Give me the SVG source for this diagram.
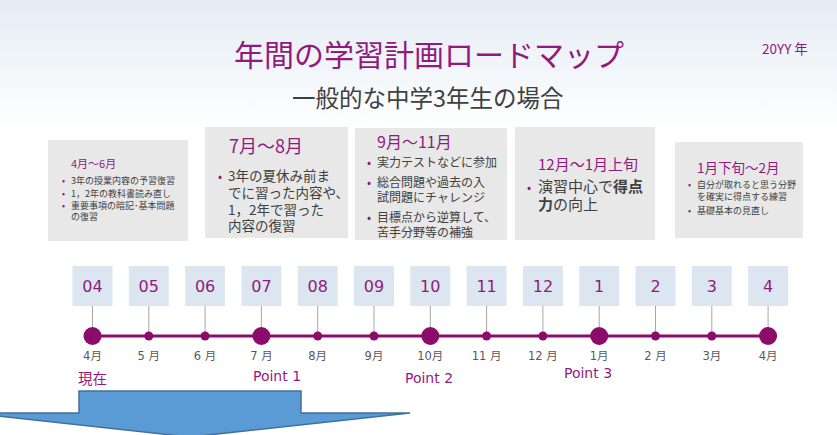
<svg xmlns="http://www.w3.org/2000/svg" width="837" height="435" viewBox="0 0 837 435">
<defs>
<linearGradient id="bg" x1="0" y1="0" x2="0" y2="1">
<stop offset="0" stop-color="#E4ECF4"/>
<stop offset="1" stop-color="#FFFFFF"/>
</linearGradient>
<style>
.jp{font-family:"Noto Sans CJK JP","Noto Sans",sans-serif}
.pur{fill:#921A7E}
.body{fill:#404040}
.card{fill:#E8E8E8}
.mbox{fill:#DCE6F0}
.mnum{font-family:"DejaVu Sans",sans-serif;font-size:16px;fill:#921A7E;text-anchor:middle}
.mlab{font-family:"DejaVu Sans","Noto Sans CJK JP",sans-serif;font-size:11.5px;fill:#595959;text-anchor:middle}
.pt{font-family:"DejaVu Sans","Noto Sans CJK JP",sans-serif;font-size:14px;fill:#921A7E}
.tick{stroke:#A6A6A6;stroke-width:1}
.dot{fill:#8C0C6C}
.bul{fill:#921A7E}
</style>
</defs>
<rect x="0" y="0" width="837" height="435" fill="#FFFFFF"/>
<rect x="0" y="0" width="837" height="130" fill="url(#bg)"/>

<g id="title">
<text class="jp pur" x="234" y="66" font-size="30">年間の学習計画ロードマップ</text>
<text class="jp body" x="292" y="107" font-size="23.5" fill="#404040">一般的な中学3年生の場合</text>
<text class="jp pur" x="762" y="54" font-size="13.5">20YY 年</text>
</g>

<g id="card1">
<rect class="card" x="48" y="140" width="140" height="101"/>
<text class="jp pur" x="71" y="168" font-size="11">4月～6月</text>
<g class="jp body" font-size="9">
<text x="62" y="184" class="bul">•</text><text x="71" y="184">3年の授業内容の予習復習</text>
<text x="62" y="197" class="bul">•</text><text x="71" y="197">1，2年の教科書読み直し</text>
<text x="62" y="209" class="bul">•</text><text x="71" y="209">重要事項の暗記･基本問題</text>
<text x="71" y="220">の復習</text>
</g>
</g>

<g id="card2">
<rect class="card" x="205" y="127" width="143" height="111"/>
<text class="jp pur" x="229" y="153" font-size="18">7月～8月</text>
<g class="jp body" font-size="13.5">
<text x="218" y="181" class="bul" font-size="12">•</text><text x="228" y="181">3年の夏休み前ま</text>
<text x="228" y="198">でに習った内容や、</text>
<text x="228" y="214.5">1，2年で習った</text>
<text x="228" y="231">内容の復習</text>
</g>
</g>

<g id="card3">
<rect class="card" x="355" y="128" width="152" height="112"/>
<text class="jp pur" x="377" y="148" font-size="16">9月～11月</text>
<g class="jp body" font-size="12">
<text x="367" y="167" class="bul">•</text><text x="377" y="167">実力テストなどに参加</text>
<text x="367" y="187" class="bul">•</text><text x="377" y="187">総合問題や過去の入</text>
<text x="377" y="202">試問題にチャレンジ</text>
<text x="367" y="222" class="bul">•</text><text x="377" y="222">目標点から逆算して、</text>
<text x="377" y="237">苦手分野等の補強</text>
</g>
</g>

<g id="card4">
<rect class="card" x="515" y="127" width="140" height="113"/>
<text class="jp pur" x="538" y="170" font-size="15">12月～1月上旬</text>
<g class="jp body" font-size="15">
<text x="527" y="192" class="bul" font-size="12">•</text><text x="538" y="192">演習中心で<tspan font-weight="bold">得点</tspan></text>
<text x="538" y="210"><tspan font-weight="bold">力</tspan>の向上</text>
</g>
</g>

<g id="card5">
<rect class="card" x="675" y="142" width="128" height="96"/>
<text class="jp pur" x="697" y="173" font-size="13.5">1月下旬～2月</text>
<g class="jp body" font-size="9">
<text x="688" y="188" class="bul">•</text><text x="697" y="188">自分が取れると思う分野</text>
<text x="697" y="200">を確実に得点する練習</text>
<text x="688" y="214" class="bul">•</text><text x="697" y="214">基礎基本の見直し</text>
</g>
</g>

<g id="connectors">
<line x1="92.5" y1="336" x2="768" y2="336" stroke="#8C0C6C" stroke-width="3"/>
<line class="tick" x1="92.5" y1="306" x2="92.5" y2="336"/>
<line class="tick" x1="148.8" y1="306" x2="148.8" y2="336"/>
<line class="tick" x1="205.1" y1="306" x2="205.1" y2="336"/>
<line class="tick" x1="261.4" y1="306" x2="261.4" y2="336"/>
<line class="tick" x1="317.7" y1="306" x2="317.7" y2="336"/>
<line class="tick" x1="374" y1="306" x2="374" y2="336"/>
<line class="tick" x1="430.3" y1="306" x2="430.3" y2="336"/>
<line class="tick" x1="486.6" y1="306" x2="486.6" y2="336"/>
<line class="tick" x1="542.9" y1="306" x2="542.9" y2="336"/>
<line class="tick" x1="599.2" y1="306" x2="599.2" y2="336"/>
<line class="tick" x1="655.5" y1="306" x2="655.5" y2="336"/>
<line class="tick" x1="711.8" y1="306" x2="711.8" y2="336"/>
<line class="tick" x1="768.1" y1="306" x2="768.1" y2="336"/>
</g>

<g id="m04"><rect class="mbox" x="72.5" y="266" width="40" height="40"/><text class="mnum" x="92.5" y="292">04</text><circle class="dot" cx="92.5" cy="336" r="9"/><text class="mlab" x="92.5" y="360">4月</text></g>
<g id="m05"><rect class="mbox" x="128.8" y="266" width="40" height="40"/><text class="mnum" x="148.8" y="292">05</text><circle class="dot" cx="148.8" cy="336" r="4.5"/><text class="mlab" x="148.8" y="360">5 月</text></g>
<g id="m06"><rect class="mbox" x="185.1" y="266" width="40" height="40"/><text class="mnum" x="205.1" y="292">06</text><circle class="dot" cx="205.1" cy="336" r="4.5"/><text class="mlab" x="205.1" y="360">6 月</text></g>
<g id="m07"><rect class="mbox" x="241.4" y="266" width="40" height="40"/><text class="mnum" x="261.4" y="292">07</text><circle class="dot" cx="261.4" cy="336" r="9"/><text class="mlab" x="261.4" y="360">7 月</text></g>
<g id="m08"><rect class="mbox" x="297.7" y="266" width="40" height="40"/><text class="mnum" x="317.7" y="292">08</text><circle class="dot" cx="317.7" cy="336" r="4.5"/><text class="mlab" x="317.7" y="360">8月</text></g>
<g id="m09"><rect class="mbox" x="354" y="266" width="40" height="40"/><text class="mnum" x="374" y="292">09</text><circle class="dot" cx="374" cy="336" r="4.5"/><text class="mlab" x="374" y="360">9月</text></g>
<g id="m10"><rect class="mbox" x="410.3" y="266" width="40" height="40"/><text class="mnum" x="430.3" y="292">10</text><circle class="dot" cx="430.3" cy="336" r="9"/><text class="mlab" x="430.3" y="360">10月</text></g>
<g id="m11"><rect class="mbox" x="466.6" y="266" width="40" height="40"/><text class="mnum" x="486.6" y="292">11</text><circle class="dot" cx="486.6" cy="336" r="4.5"/><text class="mlab" x="486.6" y="360">11 月</text></g>
<g id="m12"><rect class="mbox" x="522.9" y="266" width="40" height="40"/><text class="mnum" x="542.9" y="292">12</text><circle class="dot" cx="542.9" cy="336" r="4.5"/><text class="mlab" x="542.9" y="360">12 月</text></g>
<g id="m1"><rect class="mbox" x="579.2" y="266" width="40" height="40"/><text class="mnum" x="599.2" y="292">1</text><circle class="dot" cx="599.2" cy="336" r="9"/><text class="mlab" x="599.2" y="360">1月</text></g>
<g id="m2"><rect class="mbox" x="635.5" y="266" width="40" height="40"/><text class="mnum" x="655.5" y="292">2</text><circle class="dot" cx="655.5" cy="336" r="4.5"/><text class="mlab" x="655.5" y="360">2 月</text></g>
<g id="m3"><rect class="mbox" x="691.8" y="266" width="40" height="40"/><text class="mnum" x="711.8" y="292">3</text><circle class="dot" cx="711.8" cy="336" r="4.5"/><text class="mlab" x="711.8" y="360">3月</text></g>
<g id="m4"><rect class="mbox" x="748.1" y="266" width="40" height="40"/><text class="mnum" x="768.1" y="292">4</text><circle class="dot" cx="768.1" cy="336" r="9"/><text class="mlab" x="768.1" y="360">4月</text></g>

<g id="points">
<text class="jp pur" x="78" y="384" font-size="14.5">現在</text>
<text class="pt" x="277" y="381" text-anchor="middle">Point 1</text>
<text class="pt" x="429" y="383" text-anchor="middle">Point 2</text>
<text class="pt" x="588" y="378" text-anchor="middle">Point 3</text>
</g>

<g id="arrow">
<path d="M79,391 H301 V413 H410 L190,437 L-30,413 H79 Z" fill="#5B9BD5" stroke="#41719C" stroke-width="1.5"/>
</g>
</svg>
